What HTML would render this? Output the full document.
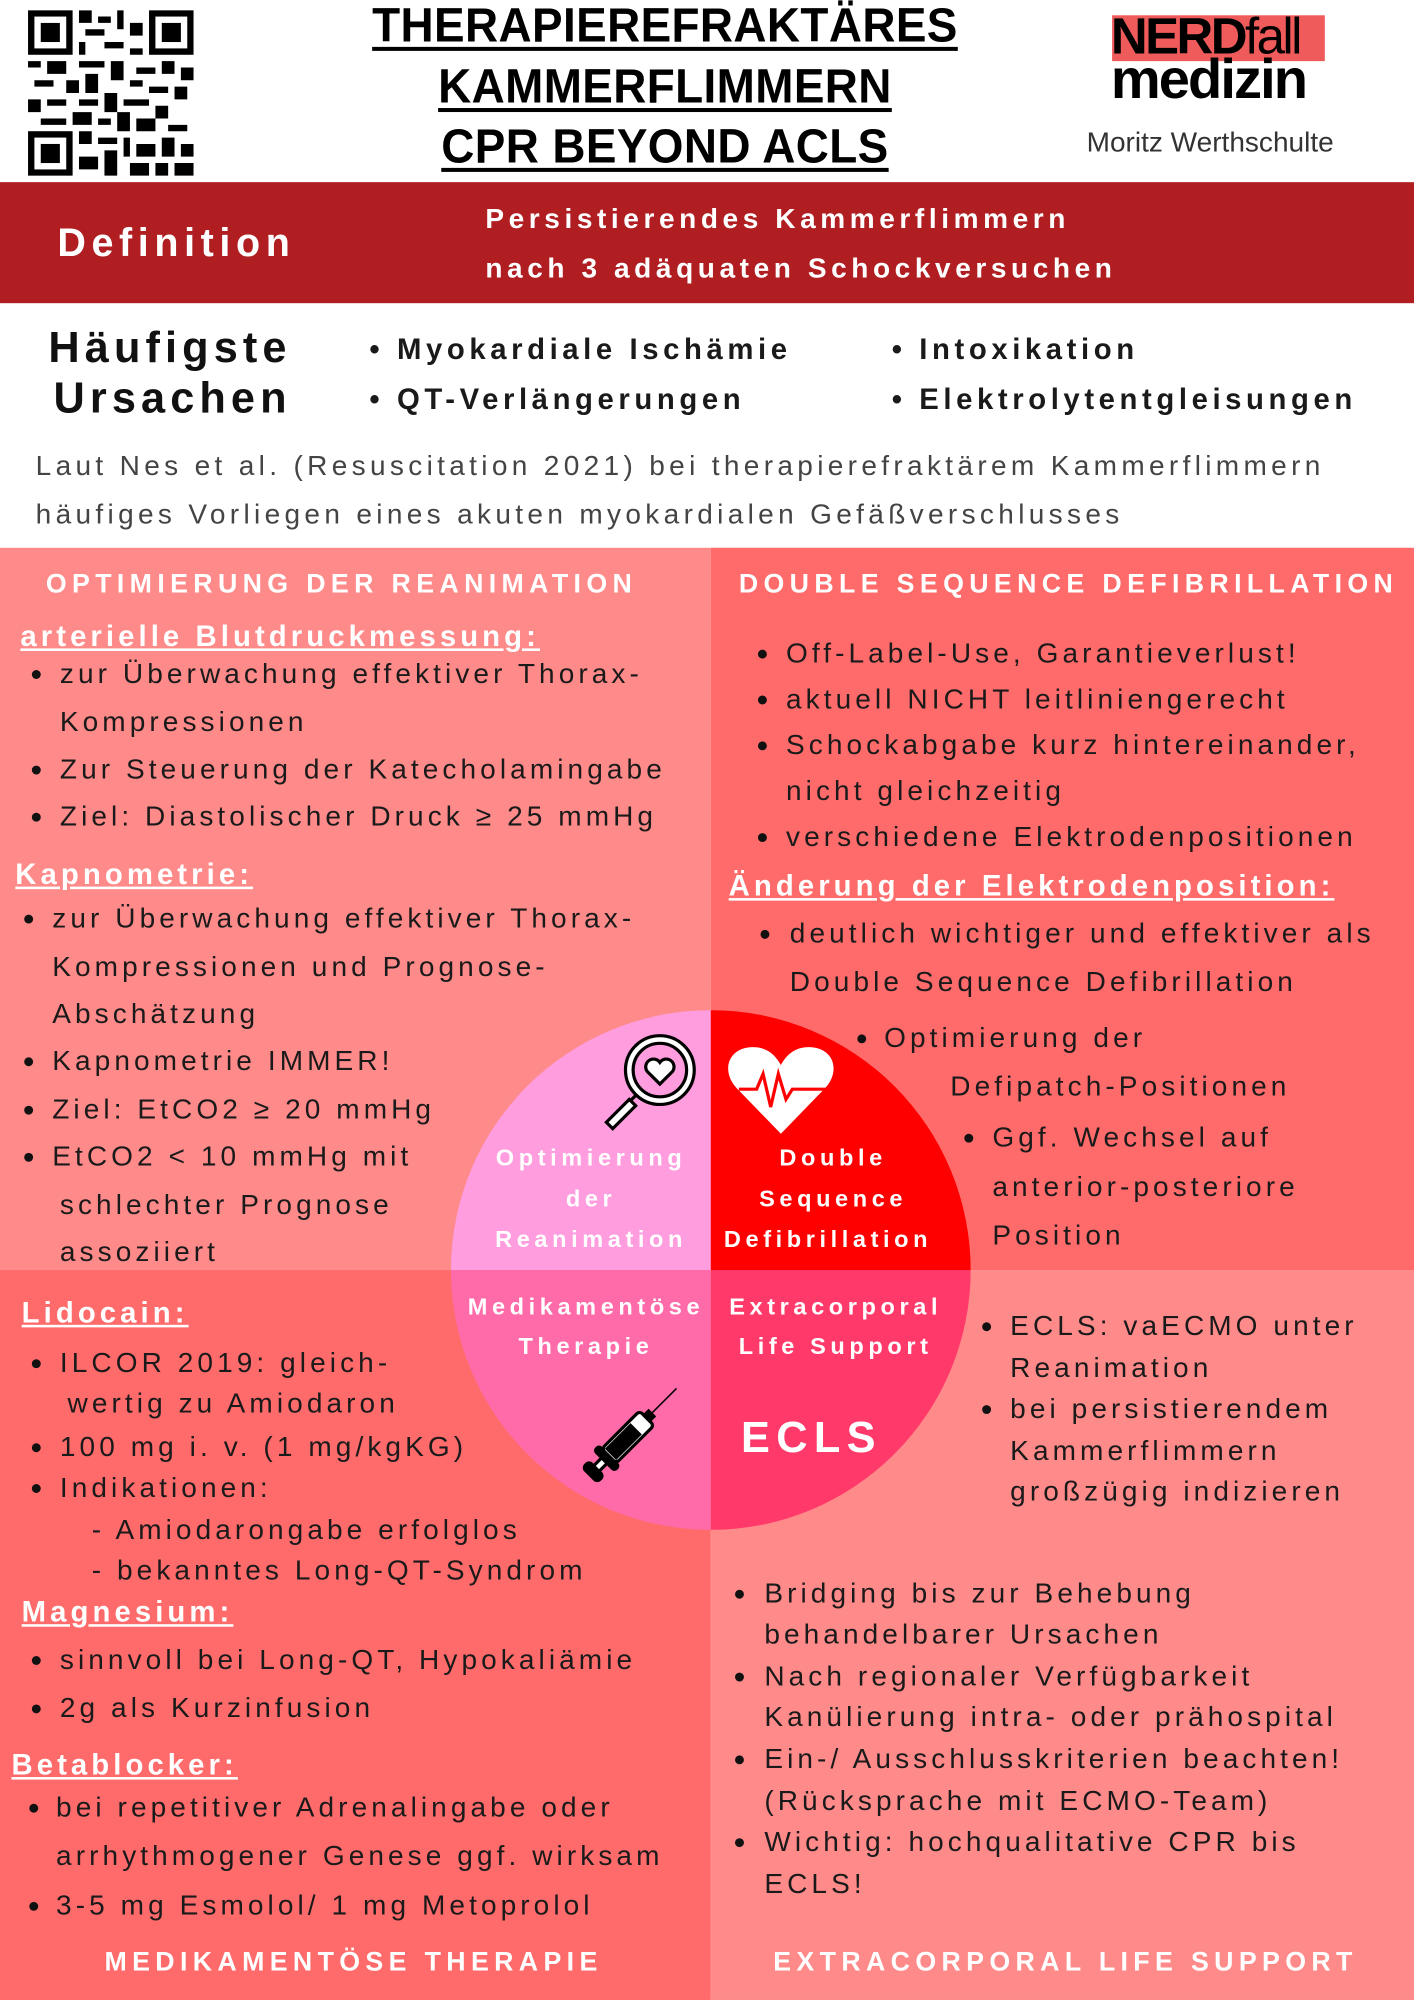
<!DOCTYPE html>
<html><head><meta charset="utf-8"><style>
html,body{margin:0;padding:0;width:1414px;height:2000px;overflow:hidden;background:#fff}
#w{position:absolute;left:0;top:0;width:1110px;height:1570px;transform:scale(1.27387);transform-origin:0 0;font-family:"Liberation Sans","DejaVu Sans",sans-serif}
.t{position:absolute;white-space:nowrap;line-height:26px;font-size:22px;letter-spacing:3.2px;color:#1a1a1a}
.h{color:#fff;font-weight:bold;font-size:21px;letter-spacing:4.2px}
.u{color:#fff;font-weight:bold;text-decoration:underline;font-size:23px;letter-spacing:3.2px}
.b{position:absolute;width:7px;height:7px;border-radius:50%;background:#111}
.c{color:#fff;font-weight:bold;font-size:18.5px;letter-spacing:3.6px;text-align:center;transform:translateX(-50%)}
.ti{position:absolute;white-space:nowrap;font-weight:900;font-size:36px;letter-spacing:0.3px;text-decoration:underline;text-decoration-thickness:3px;text-underline-offset:4px;transform:translateX(-50%) scaleY(1.05);line-height:38px}
</style></head><body><div id="w">
<!-- QR -->
<svg style="position:absolute;left:22px;top:8px" width="130" height="130" viewBox="0 0 26 26">
<rect width="26" height="26" fill="#fff"/>
<g fill="#000">
<rect x="0" y="0" width="7" height="7"/><rect x="1" y="1" width="5" height="5" fill="#fff"/><rect x="2" y="2" width="3" height="3"/>
<rect x="19" y="0" width="7" height="7"/><rect x="20" y="1" width="5" height="5" fill="#fff"/><rect x="21" y="2" width="3" height="3"/>
<rect x="0" y="19" width="7" height="7"/><rect x="1" y="20" width="5" height="5" fill="#fff"/><rect x="2" y="21" width="3" height="3"/>
<path d="M8 0h2v2h-2zM11 1h2v1h-2zM14 0h1v3h-1zM16 2h2v2h-2zM9 3h3v1h-3zM8 5h1v2h-1zM12 5h3v1h-3zM16 6h2v1h-2zM0 8h2v1h-2zM3 8h3v2h-3zM8 8h4v1h-4zM13 8h2v3h-2zM17 9h3v1h-3zM21 8h2v2h-2zM24 9h2v2h-2zM1 11h3v1h-3zM6 11h2v2h-2zM9 10h2v3h-2zM16 11h2v1h-2zM19 12h3v1h-3zM23 12h2v2h-2zM0 14h2v2h-2zM3 14h3v1h-3zM8 14h3v1h-3zM12 13h2v3h-2zM15 14h4v1h-4zM20 15h2v2h-2zM2 17h4v1h-4zM7 16h3v2h-3zM11 17h2v1h-2zM14 16h2v3h-2zM17 17h3v2h-3zM22 18h3v1h-3zM8 19h2v2h-2zM11 20h3v1h-3zM15 20h1v3h-1zM17 21h3v2h-3zM21 20h2v3h-2zM24 21h2v2h-2zM8 23h3v2h-3zM12 22h2v4h-2zM16 24h3v2h-3zM20 24h2v2h-2zM23 24h3v2h-3z"/>
</g></svg>
<div class="ti" style="left:522px;top:1px">THERAPIEREFRAKTÄRES</div>
<div class="ti" style="left:522px;top:49px">KAMMERFLIMMERN</div>
<div class="ti" style="left:522px;top:96px">CPR BEYOND ACLS</div>
<div style="position:absolute;left:873px;top:12px;width:167px;height:36px;background:#ef5b5b"></div>
<div style="position:absolute;left:872px;top:7px;font-size:40px;font-weight:bold;letter-spacing:-2px;line-height:44px">NERD<span style="font-weight:normal">fall</span></div>
<div style="position:absolute;left:872px;top:40px;font-size:44px;font-weight:bold;letter-spacing:-1.5px;line-height:46px">medizin</div>
<div class="t" style="left:853px;top:99px;font-size:22px;letter-spacing:0;color:#333">Moritz Werthschulte</div>

<div style="position:absolute;left:0;top:143px;width:1110px;height:95px;background:#b01e22"></div>
<div class="t" style="left:45px;top:175px;color:#fff;font-weight:bold;font-size:31px;letter-spacing:4.4px;line-height:32px">Definition</div>
<div class="t" style="left:381px;top:159px;color:#fff;font-weight:bold;font-size:22px;letter-spacing:3.6px">Persistierendes Kammerflimmern</div>
<div class="t" style="left:381px;top:198px;color:#fff;font-weight:bold;font-size:22px;letter-spacing:3.6px">nach 3 adäquaten Schockversuchen</div>

<div class="t" style="left:38px;top:256px;font-weight:bold;font-size:34px;letter-spacing:4px;line-height:34px;color:#111">Häufigste</div>
<div class="t" style="left:42px;top:296px;font-weight:bold;font-size:34px;letter-spacing:4px;line-height:34px;color:#111">Ursachen</div>
<div class="t" style="left:290px;top:261px;font-weight:bold;font-size:23px;letter-spacing:3.6px">• Myokardiale Ischämie</div>
<div class="t" style="left:290px;top:300px;font-weight:bold;font-size:23px;letter-spacing:3.6px">• QT-Verlängerungen</div>
<div class="t" style="left:700px;top:261px;font-weight:bold;font-size:23px;letter-spacing:3.6px">• Intoxikation</div>
<div class="t" style="left:700px;top:300px;font-weight:bold;font-size:23px;letter-spacing:3.6px">• Elektrolytentgleisungen</div>
<div class="t" style="left:28px;top:353px;color:#444;letter-spacing:3.4px">Laut Nes et al. (Resuscitation 2021) bei therapierefraktärem Kammerflimmern</div>
<div class="t" style="left:28px;top:391px;color:#444;letter-spacing:3.4px">häufiges Vorliegen eines akuten myokardialen Gefäßverschlusses</div>

<!-- quadrants -->
<div style="position:absolute;left:0;top:430px;width:558px;height:567px;background:#ff8a8a"></div>
<div style="position:absolute;left:558px;top:430px;width:552px;height:567px;background:#ff6b6b"></div>
<div style="position:absolute;left:0;top:997px;width:558px;height:573px;background:#ff6b6b"></div>
<div style="position:absolute;left:558px;top:997px;width:552px;height:573px;background:#ff8a8a"></div>

<!-- TL -->
<div class="t h" style="left:36px;top:446px">OPTIMIERUNG DER REANIMATION</div>
<div class="t u" style="left:16px;top:486px">arterielle Blutdruckmessung:</div>
<div class="b" style="left:25px;top:526px"></div><div class="t" style="left:47px;top:516px">zur Überwachung effektiver Thorax-</div>
<div class="t" style="left:47px;top:554px">Kompressionen</div>
<div class="b" style="left:25px;top:601px"></div><div class="t" style="left:47px;top:591px">Zur Steuerung der Katecholamingabe</div>
<div class="b" style="left:25px;top:638px"></div><div class="t" style="left:47px;top:628px">Ziel: Diastolischer Druck ≥ 25 mmHg</div>
<div class="t u" style="left:12px;top:673px">Kapnometrie:</div>
<div class="b" style="left:19px;top:718px"></div><div class="t" style="left:41px;top:708px">zur Überwachung effektiver Thorax-</div>
<div class="t" style="left:41px;top:746px">Kompressionen und Prognose-</div>
<div class="t" style="left:41px;top:783px">Abschätzung</div>
<div class="b" style="left:19px;top:830px"></div><div class="t" style="left:41px;top:820px">Kapnometrie IMMER!</div>
<div class="b" style="left:19px;top:868px"></div><div class="t" style="left:41px;top:858px">Ziel: EtCO2 ≥ 20 mmHg</div>
<div class="b" style="left:19px;top:905px"></div><div class="t" style="left:41px;top:895px">EtCO2 &lt; 10 mmHg mit</div>
<div class="t" style="left:47px;top:933px">schlechter Prognose</div>
<div class="t" style="left:47px;top:970px">assoziiert</div>

<!-- TR -->
<div class="t h" style="left:580px;top:446px">DOUBLE SEQUENCE DEFIBRILLATION</div>
<div class="b" style="left:595px;top:510px"></div><div class="t" style="left:617px;top:500px">Off-Label-Use, Garantieverlust!</div>
<div class="b" style="left:595px;top:546px"></div><div class="t" style="left:617px;top:536px">aktuell NICHT leitliniengerecht</div>
<div class="b" style="left:595px;top:582px"></div><div class="t" style="left:617px;top:572px">Schockabgabe kurz hintereinander,</div>
<div class="t" style="left:617px;top:608px">nicht gleichzeitig</div>
<div class="b" style="left:595px;top:654px"></div><div class="t" style="left:617px;top:644px">verschiedene Elektrodenpositionen</div>
<div class="t u" style="left:572px;top:682px">Änderung der Elektrodenposition:</div>
<div class="b" style="left:597px;top:730px"></div><div class="t" style="left:620px;top:720px">deutlich wichtiger und effektiver als</div>
<div class="t" style="left:620px;top:758px">Double Sequence Defibrillation</div>
<div class="b" style="left:673px;top:812px"></div><div class="t" style="left:694px;top:802px">Optimierung der</div>
<div class="t" style="left:746px;top:840px">Defipatch-Positionen</div>
<div class="b" style="left:757px;top:890px"></div><div class="t" style="left:779px;top:880px">Ggf. Wechsel auf</div>
<div class="t" style="left:779px;top:919px">anterior-posteriore</div>
<div class="t" style="left:779px;top:957px">Position</div>

<!-- BL -->
<div class="t u" style="left:17px;top:1017px">Lidocain:</div>
<div class="b" style="left:25px;top:1067px"></div><div class="t" style="left:47px;top:1057px">ILCOR 2019: gleich-</div>
<div class="t" style="left:53px;top:1089px">wertig zu Amiodaron</div>
<div class="b" style="left:25px;top:1133px"></div><div class="t" style="left:47px;top:1123px">100 mg i. v. (1 mg/kgKG)</div>
<div class="b" style="left:25px;top:1165px"></div><div class="t" style="left:47px;top:1155px">Indikationen:</div>
<div class="t" style="left:72px;top:1188px">- Amiodarongabe erfolglos</div>
<div class="t" style="left:72px;top:1220px">- bekanntes Long-QT-Syndrom</div>
<div class="t u" style="left:17px;top:1252px">Magnesium:</div>
<div class="b" style="left:25px;top:1300px"></div><div class="t" style="left:47px;top:1290px">sinnvoll bei Long-QT, Hypokaliämie</div>
<div class="b" style="left:25px;top:1338px"></div><div class="t" style="left:47px;top:1328px">2g als Kurzinfusion</div>
<div class="t u" style="left:9px;top:1372px">Betablocker:</div>
<div class="b" style="left:23px;top:1416px"></div><div class="t" style="left:44px;top:1406px">bei repetitiver Adrenalingabe oder</div>
<div class="t" style="left:44px;top:1444px">arrhythmogener Genese ggf. wirksam</div>
<div class="b" style="left:23px;top:1493px"></div><div class="t" style="left:44px;top:1483px">3-5 mg Esmolol/ 1 mg Metoprolol</div>
<div class="t h" style="left:82px;top:1528px">MEDIKAMENTÖSE THERAPIE</div>

<!-- BR -->
<div class="b" style="left:771px;top:1038px"></div><div class="t" style="left:793px;top:1028px">ECLS: vaECMO unter</div>
<div class="t" style="left:793px;top:1061px">Reanimation</div>
<div class="b" style="left:771px;top:1103px"></div><div class="t" style="left:793px;top:1093px">bei persistierendem</div>
<div class="t" style="left:793px;top:1126px">Kammerflimmern</div>
<div class="t" style="left:793px;top:1158px">großzügig indizieren</div>
<div class="b" style="left:577px;top:1248px"></div><div class="t" style="left:600px;top:1238px">Bridging bis zur Behebung</div>
<div class="t" style="left:600px;top:1270px">behandelbarer Ursachen</div>
<div class="b" style="left:577px;top:1313px"></div><div class="t" style="left:600px;top:1303px">Nach regionaler Verfügbarkeit</div>
<div class="t" style="left:600px;top:1335px">Kanülierung intra- oder prähospital</div>
<div class="b" style="left:577px;top:1378px"></div><div class="t" style="left:600px;top:1368px">Ein-/ Ausschlusskriterien beachten!</div>
<div class="t" style="left:600px;top:1401px">(Rücksprache mit ECMO-Team)</div>
<div class="b" style="left:577px;top:1443px"></div><div class="t" style="left:600px;top:1433px">Wichtig: hochqualitative CPR bis</div>
<div class="t" style="left:600px;top:1466px">ECLS!</div>
<div class="t h" style="left:607px;top:1528px">EXTRACORPORAL LIFE SUPPORT</div>

<!-- circle -->
<svg style="position:absolute;left:354px;top:793px" width="408" height="408" viewBox="0 0 408 408">
<path d="M204 204V0A204 204 0 0 0 0 204Z" fill="#ff9ddf"/>
<path d="M204 204V0A204 204 0 0 1 408 204Z" fill="#ff0000"/>
<path d="M204 204H0A204 204 0 0 0 204 408Z" fill="#ff6ba8"/>
<path d="M204 204H408A204 204 0 0 1 204 408Z" fill="#ff3a6a"/>
<!-- magnifier -->
<g stroke="#000" stroke-width="2.5">
<circle cx="164" cy="47" r="27" fill="#fff"/><circle cx="164" cy="47" r="21" fill="#ff9ddf"/>
<path d="M164 58 l-10-10 a6 6 0 0 1 10-7 a6 6 0 0 1 10 7z" fill="#fff"/>
<path d="M145 67 l-6 6" fill="none"/>
<path d="M140 70 l-18 18 l5 5 l18-18z" fill="#fff"/>
</g>
<!-- heart -->
<path d="M259 97 L226 63 C211 49 217 29 237 29 C249 29 255 36 259 43 C263 36 269 29 281 29 C301 29 307 49 292 63 Z" fill="#fff"/>
<polyline points="226,62 240,62 245,50 251,76 257,50 263,70 268,62 294,62" fill="none" stroke="#f00" stroke-width="2.5"/>
<!-- syringe -->
<g transform="translate(112,362) rotate(-45)" fill="#fff" stroke="#000" stroke-width="2.5">
<rect x="-4" y="-8" width="7" height="16" rx="3" fill="#000"/>
<rect x="3" y="-3" width="9" height="6"/>
<rect x="12" y="-11" width="5" height="22" rx="2" fill="#000"/>
<rect x="17" y="-8" width="42" height="16" rx="3"/>
<rect x="20" y="-5" width="26" height="10" fill="#000"/>
<path d="M59 -3 l5 0 0 6 -5 0z" fill="#000"/>
<path d="M64 0 H92" stroke-width="1.2"/>
</g>
</svg>
<div class="t c" style="left:464px;top:896px">Optimierung</div>
<div class="t c" style="left:464px;top:928px">der</div>
<div class="t c" style="left:464px;top:960px">Reanimation</div>
<div class="t c" style="left:654px;top:896px">Double</div>
<div class="t c" style="left:654px;top:928px">Sequence</div>
<div class="t c" style="left:650px;top:960px">Defibrillation</div>
<div class="t c" style="left:460px;top:1013px">Medikamentöse</div>
<div class="t c" style="left:460px;top:1044px">Therapie</div>
<div class="t c" style="left:656px;top:1013px">Extracorporal</div>
<div class="t c" style="left:656px;top:1044px">Life Support</div>
<div class="t c" style="left:637px;top:1112px;font-size:34px;letter-spacing:5px;line-height:34px">ECLS</div>
</div></body></html>
